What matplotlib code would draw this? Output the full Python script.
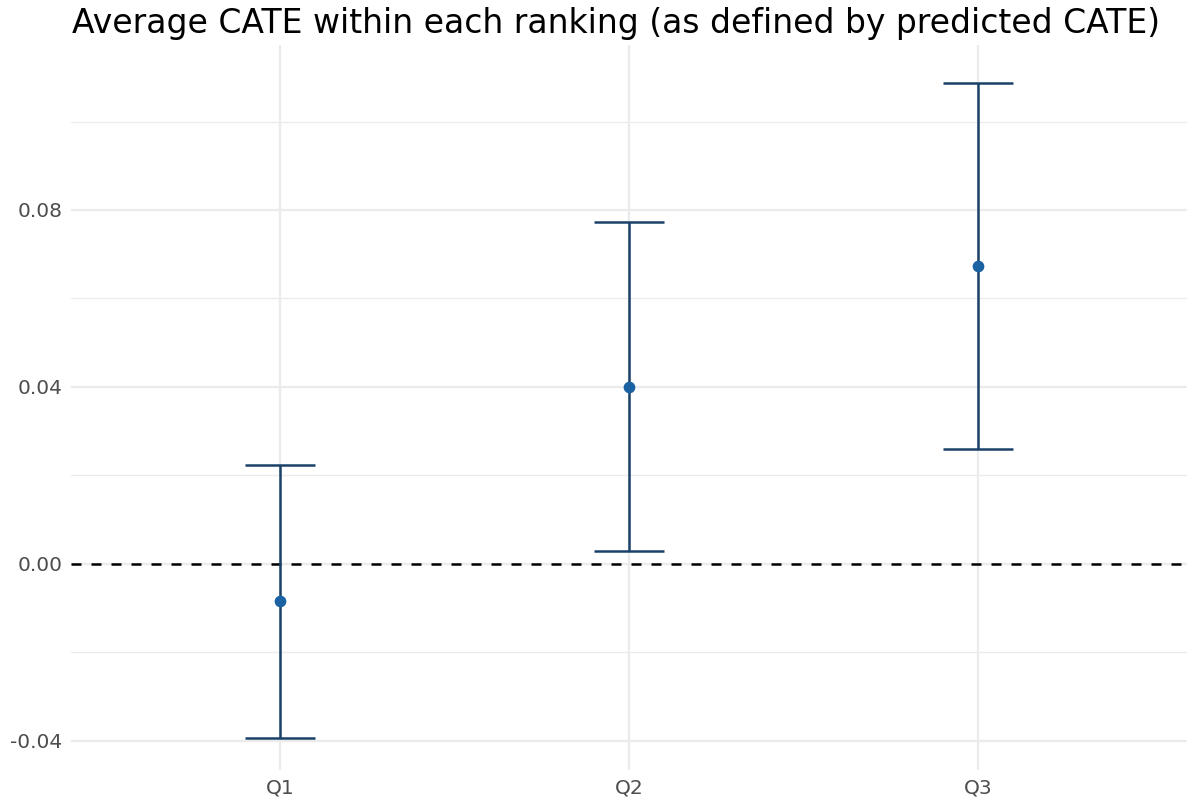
import numpy as np
import matplotlib.pyplot as plt
from matplotlib.ticker import MultipleLocator

groups = ['Q1', 'Q2', 'Q3']
estimate = [-0.0084, 0.0400, 0.0673]
lower = [-0.0393, 0.0029, 0.0260]
upper = [0.0224, 0.0773, 0.1087]

x = np.arange(1, len(groups) + 1)

fig = plt.figure(figsize=(11.89, 8.05), dpi=100)
ax = fig.add_axes([71/1189, 35/805, 1116/1189, 725/805])

for v in [-0.04, 0.0, 0.04, 0.08]:
    ax.axhline(v, color='#ebebeb', lw=1.6, zorder=0)
for v in [-0.02, 0.02, 0.06, 0.10]:
    ax.axhline(v, color='#ebebeb', lw=0.9, zorder=0)
for xi in x:
    ax.axvline(xi, color='#ebebeb', lw=1.6, zorder=0)

ax.axhline(0, color='black', lw=1.8, ls=(0, (4, 4)), zorder=1)

err = [np.array(estimate) - np.array(lower), np.array(upper) - np.array(estimate)]
ax.errorbar(x, estimate, yerr=err, fmt='none', ecolor='#1a4269', elinewidth=1.8,
            capsize=25, capthick=1.8, zorder=2)
ax.scatter(x, estimate, s=55, color='#1b62a3', zorder=3)

ax.set_xlim(0.4, 3.6)
ax.set_ylim(-0.0466, 0.1173)
ax.set_xticks(x)
ax.set_xticklabels(groups)
ax.yaxis.set_major_locator(MultipleLocator(0.04))
ax.yaxis.set_major_formatter(lambda v, p: f'{v:.2f}')
ax.tick_params(length=0, labelsize=14.5, labelcolor='#4d4d4d', pad=6)
for s in ax.spines.values():
    s.set_visible(False)

fig.text(72/1189, 1 - 7/805, 'Average CATE within each ranking (as defined by predicted CATE)',
         fontsize=23.8, va='top', ha='left')

fig.savefig('out.png', dpi=100)
